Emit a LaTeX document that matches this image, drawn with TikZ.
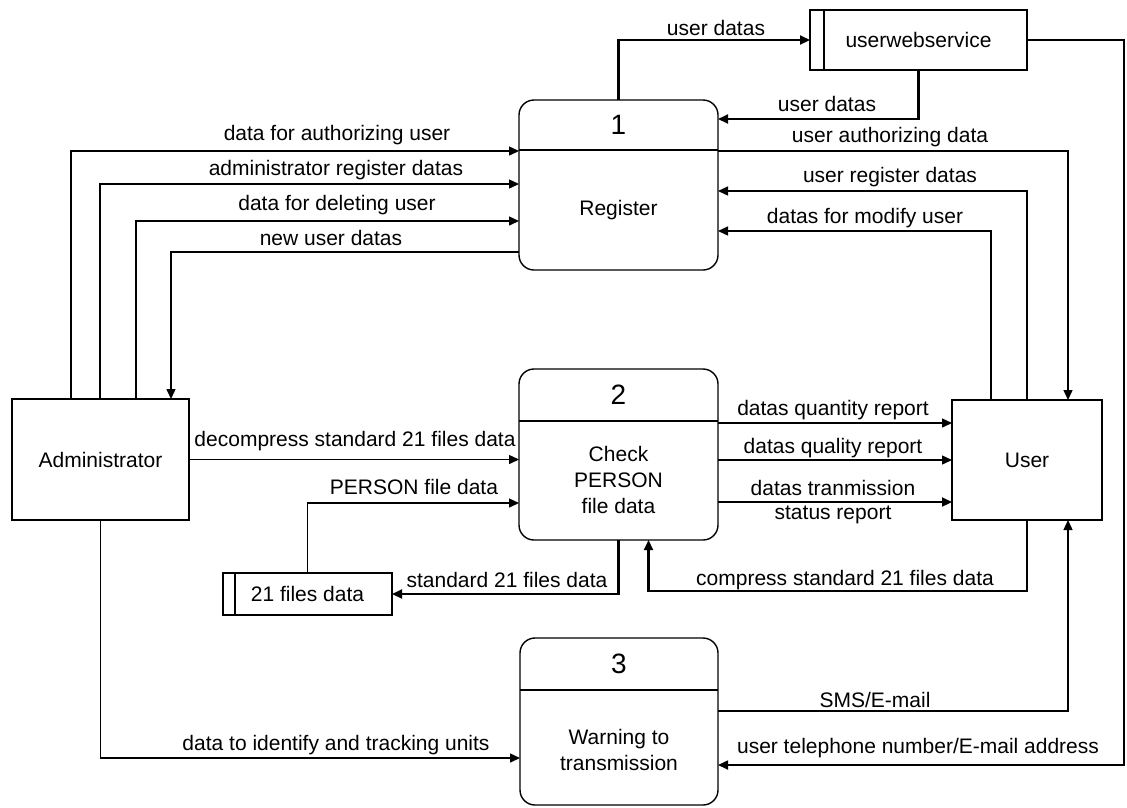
\documentclass[tikz,border=0pt]{standalone}
\usepackage{fontspec}
\setmainfont{Liberation Sans}
\usetikzlibrary{arrows.meta,calc}
\begin{document}
\begin{tikzpicture}[x=1pt,y=-1pt,
  font=\fontsize{21}{26}\selectfont,
  every node/.style={inner sep=0pt,outer sep=0pt},
  line/.style={line width=1.4pt},
  flow/.style={line width=1.4pt,-{Triangle[length=10pt,width=9pt]}},
  heavy/.style={line width=2.1pt},
  proc/.style={draw,line width=1.4pt,rounded corners=15pt},
  ent/.style={draw,line width=1.4pt},
  num/.style={font=\fontsize{28}{32}\selectfont}
]
\useasboundingbox (0,0) rectangle (1127,807);

% processes
\node[proc,minimum width=199pt,minimum height=170pt] (reg) at (618.5,185) {};
\draw[line] ($(reg.north west)+(0,50)$) -- ($(reg.north east)+(0,50)$);
\node[num] (regN) at ($(reg.north)+(0,25)$) {1};
\node (regT) at ($(reg.north)+(0,110)$) {Register};

\node[proc,minimum width=199pt,minimum height=171pt] (chk) at (618.5,454.5) {};
\draw[line] ($(chk.north west)+(0,52)$) -- ($(chk.north east)+(0,52)$);
\node[num] (chkN) at ($(chk.north)+(0,26)$) {2};
\node[align=center] (chkT) at ($(chk.north)+(0,111)$) {Check\\PERSON\\file data};

\node[proc,minimum width=198pt,minimum height=167pt] (wrn) at (619,721.5) {};
\draw[line] ($(wrn.north west)+(0,52)$) -- ($(wrn.north east)+(0,52)$);
\node[num] (wrnN) at ($(wrn.north)+(0,26)$) {3};
\node[align=center] (wrnT) at ($(wrn.north)+(0,112)$) {Warning to\\transmission};

% external entities
\node[ent,minimum width=177pt,minimum height=121pt] (adm) at (100.5,459.5) {Administrator};
\node[ent,minimum width=150pt,minimum height=120pt] (usr) at (1027,460) {User};

% data stores
\node[ent,minimum width=217pt,minimum height=60pt] (uws) at (918.5,40) {userwebservice};
\draw[line] ($(uws.north west)+(14,0)$) -- ($(uws.south west)+(14,0)$);
\node[ent,minimum width=169pt,minimum height=42pt] (fil) at (307.5,594) {21 files data};
\draw[line] ($(fil.north west)+(12,0)$) -- ($(fil.south west)+(12,0)$);

% helper points
\coordinate (regIn1) at ($(reg.north east)+(0,19)$);
\coordinate (telIn) at ($(wrn.north east)+(0,127)$);
\coordinate (q1) at ($(usr.north west)+(0,23)$);
\coordinate (q3) at ($(usr.north west)+(0,102)$);

% register flows
\draw[flow,heavy] (reg.north) |- (uws.west);
\draw[flow,heavy] (uws.south) |- (regIn1);
\draw[flow,line width=1.7pt] (uws.east) -- ++(97,0) |- (telIn);
\draw[flow] ($(reg.north east)+(0,51)$) -| ($(usr.north)+(41,0)$);
\draw[flow] (usr.north) |- ($(reg.north east)+(0,91)$);
\draw[flow] ($(usr.north)+(-36,0)$) |- ($(reg.north east)+(0,131)$);
\draw[flow] ($(adm.north west)+(59,0)$) |- ($(reg.north west)+(0,51)$);
\draw[flow] ($(adm.north west)+(88,0)$) |- ($(reg.north west)+(0,84)$);
\draw[flow] ($(adm.north west)+(124,0)$) |- ($(reg.north west)+(0,121)$);
\draw[flow] ($(reg.north west)+(0,152)$) -| ($(adm.north west)+(159,0)$);

% check flows
\draw[flow] (adm.east) -- (adm.east -| chk.west);
\draw[flow] (fil.north) |- ($(chk.north west)+(0,134)$);
\draw[flow,heavy] (chk.south) |- (fil.east);
\draw[flow] (chk.east |- q1) -- (q1);
\draw[flow] (chk.east |- usr.west) -- (usr.west);
\draw[flow,heavy] (chk.east |- q3) -- (q3);
\draw[flow,heavy] (usr.south) |- ($(chk.south)+(30,51)$) -- ($(chk.south)+(30,0)$);

% warning flows
\draw[flow] ($(wrn.north east)+(0,73)$) -| ($(usr.south)+(41,0)$);
\draw[flow] (adm.south) |- ($(wrn.north west)+(0,120)$);

% flow labels
\node (lA) at (716,28) {user datas};
\node (lB) at (827,104) {user datas};
\node (lC) at (890,137) {user authorizing data};
\node (lD) at (890,177) {user register datas};
\node (lE) at (865,218) {datas for modify user};
\node (lF) at (337,135) {data for authorizing user};
\node (lG) at (336,170) {administrator register datas};
\node (lH) at (337,205) {data for deleting user};
\node (lI) at (331,238) {new user datas};
\node (lJ) at (355,441) {decompress standard 21 files data};
\node (lK) at (414,487) {PERSON file data};
\node (lL) at (507,580) {standard 21 files data};
\node (lM) at (833,410) {datas quantity report};
\node (lN) at (833,448) {datas quality report};
\node (lO) at (833,488) {datas tranmission};
\node (lP) at (833,515) {status report};
\node (lQ) at (845,580) {compress standard 21 files data};
\node (lR) at (875,700) {SMS/E-mail};
\node (lS) at (336,745) {data to identify and tracking units};
\node (lT) at (918,748) {user telephone number/E-mail address};
\end{tikzpicture}
\end{document}
